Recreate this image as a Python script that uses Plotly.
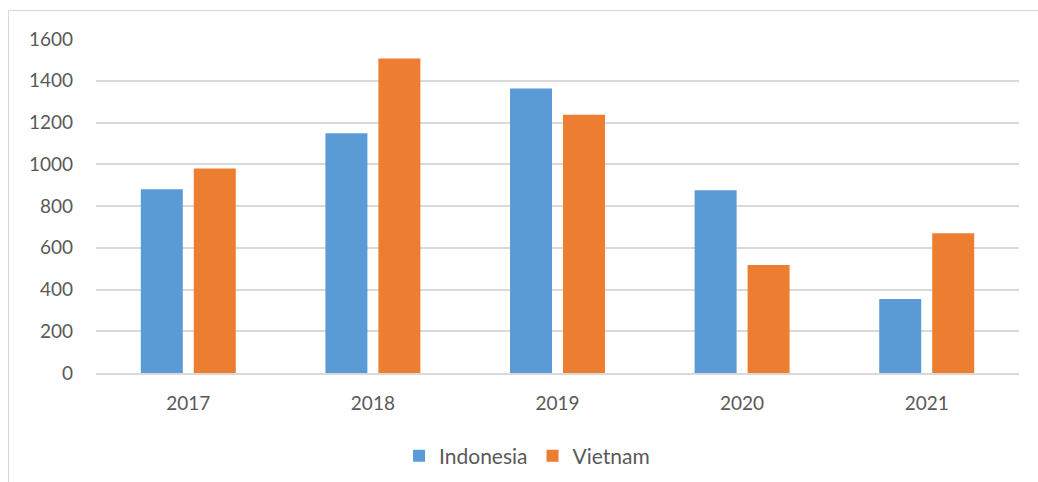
import plotly.graph_objects as go

years = ["2017", "2018", "2019", "2020", "2021"]
indonesia = [880, 1148, 1363, 876, 355]
vietnam = [980, 1507, 1237, 517, 670]
y_ticks = [0, 200, 400, 600, 800, 1000, 1200, 1400, 1600]

BLUE = "#5B9BD5"
ORANGE = "#ED7D31"
GRID = "#D9D9D9"
TXT = "#595959"
FONT = "Lato"

fig = go.Figure()
fig.add_trace(go.Bar(name="Indonesia", x=years, y=indonesia,
                     marker=dict(color=BLUE, line=dict(width=0))))
fig.add_trace(go.Bar(name="Vietnam", x=years, y=vietnam,
                     marker=dict(color=ORANGE, line=dict(width=0))))

W, H = 1038, 482
L, R, T, B = 96, 19, 39, 109
pw = W - L - R
ph = H - T - B

fig.update_layout(
    width=W, height=H,
    margin=dict(l=L, r=R, t=T, b=B, pad=0, autoexpand=False),
    paper_bgcolor="white", plot_bgcolor="white",
    barmode="group", bargap=0.426, bargroupgap=0.2075,
    font=dict(family=FONT, size=19, color=TXT),
    showlegend=True,
    legend=dict(orientation="h", x=0.467, xanchor="center",
                y=(T + ph - 456) / ph, yanchor="middle",
                font=dict(family=FONT, size=21, color=TXT),
                itemwidth=30, traceorder="normal"),
    xaxis=dict(showgrid=False, showline=True, linecolor=GRID, linewidth=2,
               ticks="", ticklabelstandoff=12, tickfont=dict(size=19, color=TXT)),
    yaxis=dict(range=[0, 1600], tickvals=y_ticks, showgrid=True, gridcolor=GRID,
               gridwidth=2, zeroline=False, showline=False, ticks="",
               ticklabelstandoff=22, tickfont=dict(size=19, color=TXT)),
    shapes=[dict(type="rect", xref="paper", yref="paper",
                 x0=(8.5 - L) / pw, x1=(1045 - L) / pw,
                 y0=1 - (490 - T) / ph, y1=1 + (T - 10.5) / ph,
                 line=dict(color=GRID, width=1), fillcolor="rgba(0,0,0,0)",
                 layer="below")],
)

fig.write_html(
    "out.html",
    config={"displayModeBar": False},
    post_script="document.body.style.margin='0';"
                "document.documentElement.style.overflow='hidden';"
                "document.body.style.overflow='hidden';",
)
